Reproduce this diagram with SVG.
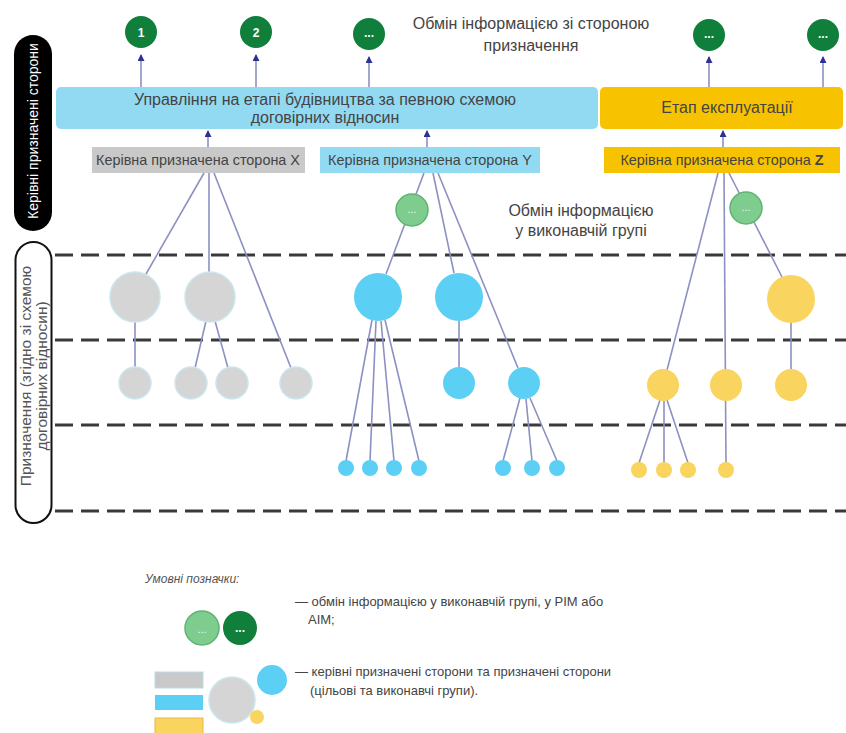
<svg xmlns="http://www.w3.org/2000/svg" width="846" height="733" viewBox="0 0 846 733">
  <defs>
    <marker id="arrow" markerWidth="7" markerHeight="7" refX="6" refY="3.5" orient="auto" markerUnits="userSpaceOnUse">
      <path d="M0,0 L7,3.5 L0,7 z" fill="#2e3192"/>
    </marker>
  </defs>
  <style>
    text { font-family: "Liberation Sans", Arial, sans-serif; fill: #444; }
    .lbl { font-size: 14.4px; text-anchor: middle; }
    .big { font-size: 16px; text-anchor: middle; }
    .leg { font-size: 13px; }
    .dash { stroke: #3a3a3a; stroke-width: 3; stroke-dasharray: 18 8; }
    .conn { stroke: #8d90c2; stroke-width: 1.6; fill: none; }
    .up { stroke: #8d90c2; stroke-width: 1.6; fill: none; marker-end: url(#arrow); }
    .dk { fill: #0f7f3b; }
    .lt { fill: #7fcd8e; stroke: #5fb372; stroke-width: 1.5; }
    .dot { fill: #ffffff; font-size: 12px; text-anchor: middle; font-weight: bold; }
    .dotlt { fill: #e8f8ea; font-size: 11px; text-anchor: middle; }
    .gr { fill: #d5d5d5; stroke: #cbe6ef; stroke-width: 1.5; }
    .bl { fill: #5ccff5; }
    .yl { fill: #f9d45f; }
  </style>

  <!-- horizontal level separators -->
  <g id="levels">
    <line class="dash" x1="55" y1="255" x2="846" y2="255"/>
    <line class="dash" x1="55" y1="340" x2="846" y2="340"/>
    <line class="dash" x1="55" y1="425" x2="846" y2="425"/>
    <line class="dash" x1="55" y1="511" x2="846" y2="511"/>
  </g>

  <!-- side labels -->
  <g id="side-leads">
    <rect x="14" y="35" width="38" height="196" rx="19" fill="#000"/>
    <text transform="translate(38,131) rotate(-90)" font-size="14" text-anchor="middle" style="fill:#fff">Керівні призначені сторони</text>
  </g>
  <g id="side-appointed">
    <rect x="15.5" y="242" width="36" height="281" rx="18" fill="#fff" stroke="#111" stroke-width="2"/>
    <text transform="translate(31,376) rotate(-90)" font-size="15.5" text-anchor="middle" style="fill:#555">Призначення (згідно зі схемою</text>
    <text transform="translate(47,376) rotate(-90)" font-size="15.5" text-anchor="middle" style="fill:#555">договірних відносин)</text>
  </g>

  <!-- connectors -->
  <g id="connectors">
    <!-- exchange with the appointing party -->
    <line class="up" x1="141" y1="88" x2="141" y2="55"/>
    <line class="up" x1="256" y1="88" x2="256" y2="55"/>
    <line class="up" x1="369" y1="88" x2="369" y2="57"/>
    <line class="up" x1="709" y1="88" x2="709" y2="57"/>
    <line class="up" x1="823" y1="88" x2="823" y2="57"/>
    <line class="up" x1="208" y1="147" x2="208" y2="131"/>
    <line class="up" x1="427" y1="147" x2="427" y2="131"/>
    <line class="up" x1="723" y1="147" x2="723" y2="131"/>

    <!-- party X -->
    <line class="conn" x1="204" y1="173" x2="146" y2="274"/>
    <line class="conn" x1="209" y1="173" x2="209" y2="272"/>
    <line class="conn" x1="214" y1="173" x2="291" y2="368"/>
    <line class="conn" x1="135" y1="322" x2="135" y2="367"/>
    <line class="conn" x1="206" y1="321" x2="195" y2="368"/>
    <line class="conn" x1="215" y1="321" x2="228" y2="368"/>

    <!-- party Y -->
    <line class="conn" x1="424" y1="173" x2="386" y2="274"/>
    <line class="conn" x1="433" y1="173" x2="454" y2="273"/>
    <line class="conn" x1="438" y1="173" x2="518" y2="368"/>
    <line class="conn" x1="372" y1="320" x2="346" y2="461"/>
    <line class="conn" x1="376" y1="321" x2="370" y2="461"/>
    <line class="conn" x1="381" y1="321" x2="394" y2="461"/>
    <line class="conn" x1="385" y1="320" x2="419" y2="461"/>
    <line class="conn" x1="459" y1="321" x2="459" y2="367"/>
    <line class="conn" x1="520" y1="398" x2="503" y2="461"/>
    <line class="conn" x1="526" y1="399" x2="532" y2="461"/>
    <line class="conn" x1="530" y1="398" x2="557" y2="461"/>

    <!-- party Z -->
    <line class="conn" x1="718" y1="173" x2="667" y2="370"/>
    <line class="conn" x1="724" y1="173" x2="726" y2="463"/>
    <line class="conn" x1="729" y1="173" x2="782" y2="277"/>
    <line class="conn" x1="791" y1="323" x2="791" y2="369"/>
    <line class="conn" x1="660" y1="400" x2="639" y2="463"/>
    <line class="conn" x1="664" y1="401" x2="664" y2="463"/>
    <line class="conn" x1="667" y1="400" x2="688" y2="463"/>
  </g>

  <!-- exchange with appointing party (top circles) -->
  <g id="ex-1"><circle class="dk" cx="141" cy="32" r="16"/><text class="dot" x="141" y="37">1</text></g>
  <g id="ex-2"><circle class="dk" cx="256" cy="32" r="16"/><text class="dot" x="256" y="37">2</text></g>
  <g id="ex-3"><circle class="dk" cx="369" cy="34" r="16"/><text class="dot" x="369" y="37" font-size="9">...</text></g>
  <g id="ex-4"><circle class="dk" cx="709" cy="35" r="16"/><text class="dot" x="709" y="38" font-size="9">...</text></g>
  <g id="ex-5"><circle class="dk" cx="823" cy="35" r="16"/><text class="dot" x="823" y="38" font-size="9">...</text></g>

  <g id="title-exchange">
    <text class="big" x="531" y="29">Обмін інформацією зі стороною</text>
    <text class="big" x="531" y="51">призначення</text>
  </g>

  <!-- stage boxes -->
  <g id="stage-construction">
    <rect x="56" y="87" width="542" height="42" rx="5" fill="#92daf2"/>
    <text class="big" x="325" y="105">Управління на етапі будівництва за певною схемою</text>
    <text class="big" x="325" y="123">договірних відносин</text>
  </g>
  <g id="stage-operation">
    <rect x="600" y="87" width="243" height="42" rx="5" fill="#f7c300"/>
    <text class="big" x="727" y="113">Етап експлуатації</text>
  </g>

  <!-- lead appointed parties -->
  <g id="lead-x">
    <rect x="92" y="147" width="213" height="26" fill="#c9c9c9"/>
    <text class="lbl" x="198" y="165">Керівна призначена сторона X</text>
  </g>
  <g id="lead-y">
    <rect x="320" y="147" width="220" height="26" fill="#92daf2"/>
    <text class="lbl" x="430" y="165">Керівна призначена сторона Y</text>
  </g>
  <g id="lead-z">
    <rect x="604" y="147" width="236" height="26" fill="#f7c300"/>
    <text class="lbl" x="722" y="165">Керівна призначена сторона <tspan font-weight="bold">Z</tspan></text>
  </g>

  <!-- exchange inside task teams -->
  <g id="team-ex-y"><circle class="lt" cx="412" cy="210" r="16"/><text class="dotlt" x="412" y="213">...</text></g>
  <g id="team-ex-z"><circle class="lt" cx="746" cy="208" r="16"/><text class="dotlt" x="746" y="211">...</text></g>
  <g id="title-team">
    <text class="big" x="581" y="216">Обмін інформацією</text>
    <text class="big" x="581" y="236">у виконавчій групі</text>
  </g>

  <!-- party X appointed parties -->
  <g id="x-a1"><circle class="gr" cx="135" cy="297" r="25"/></g>
  <g id="x-a2"><circle class="gr" cx="210" cy="297" r="25"/></g>
  <g id="x-b1"><circle class="gr" cx="135" cy="383" r="16"/></g>
  <g id="x-b2"><circle class="gr" cx="191" cy="383" r="16"/></g>
  <g id="x-b3"><circle class="gr" cx="232" cy="383" r="16"/></g>
  <g id="x-b4"><circle class="gr" cx="296" cy="383" r="16"/></g>

  <!-- party Y appointed parties -->
  <g id="y-a1"><circle class="bl" cx="378" cy="297" r="24"/></g>
  <g id="y-a2"><circle class="bl" cx="459" cy="297" r="24"/></g>
  <g id="y-b1"><circle class="bl" cx="459" cy="383" r="16"/></g>
  <g id="y-b2"><circle class="bl" cx="524" cy="383" r="16"/></g>
  <g id="y-c1"><circle class="bl" cx="346" cy="468" r="8"/></g>
  <g id="y-c2"><circle class="bl" cx="370" cy="468" r="8"/></g>
  <g id="y-c3"><circle class="bl" cx="394" cy="468" r="8"/></g>
  <g id="y-c4"><circle class="bl" cx="419" cy="468" r="8"/></g>
  <g id="y-c5"><circle class="bl" cx="503" cy="468" r="8"/></g>
  <g id="y-c6"><circle class="bl" cx="532" cy="468" r="8"/></g>
  <g id="y-c7"><circle class="bl" cx="557" cy="468" r="8"/></g>

  <!-- party Z appointed parties -->
  <g id="z-a1"><circle class="yl" cx="791" cy="299" r="24"/></g>
  <g id="z-b1"><circle class="yl" cx="663" cy="385" r="16"/></g>
  <g id="z-b2"><circle class="yl" cx="726" cy="385" r="16"/></g>
  <g id="z-b3"><circle class="yl" cx="791" cy="385" r="16"/></g>
  <g id="z-c1"><circle class="yl" cx="639" cy="470" r="8"/></g>
  <g id="z-c2"><circle class="yl" cx="664" cy="470" r="8"/></g>
  <g id="z-c3"><circle class="yl" cx="688" cy="470" r="8"/></g>
  <g id="z-c4"><circle class="yl" cx="726" cy="470" r="8"/></g>

  <!-- key -->
  <g id="legend">
    <text x="145" y="583" font-size="12" font-style="italic" style="fill:#555">Умовні позначки:</text>
    <circle class="lt" cx="202" cy="628" r="17"/>
    <text class="dotlt" x="202" y="633">...</text>
    <circle class="dk" cx="240" cy="628" r="17"/>
    <text class="dot" x="240" y="632" font-size="10">...</text>
    <text class="leg" x="295" y="606">— обмін інформацією у виконавчій групі, у PIM або</text>
    <text class="leg" x="308" y="624">AIM;</text>

    <rect x="155" y="672" width="48" height="16" fill="#c9c9c9" stroke="#b9dcea" stroke-width="1"/>
    <rect x="155" y="695" width="48" height="15" fill="#5ccff5"/>
    <rect x="155" y="718" width="48" height="16" fill="#f9d45f" stroke="#e8b84a" stroke-width="1"/>
    <circle class="gr" cx="232" cy="700" r="23"/>
    <circle class="bl" cx="272" cy="680" r="15"/>
    <circle class="yl" cx="257" cy="717" r="7"/>
    <text class="leg" x="295" y="676">— керівні призначені сторони та призначені сторони</text>
    <text class="leg" x="310" y="695">(цільові та виконавчі групи).</text>
  </g>
</svg>
